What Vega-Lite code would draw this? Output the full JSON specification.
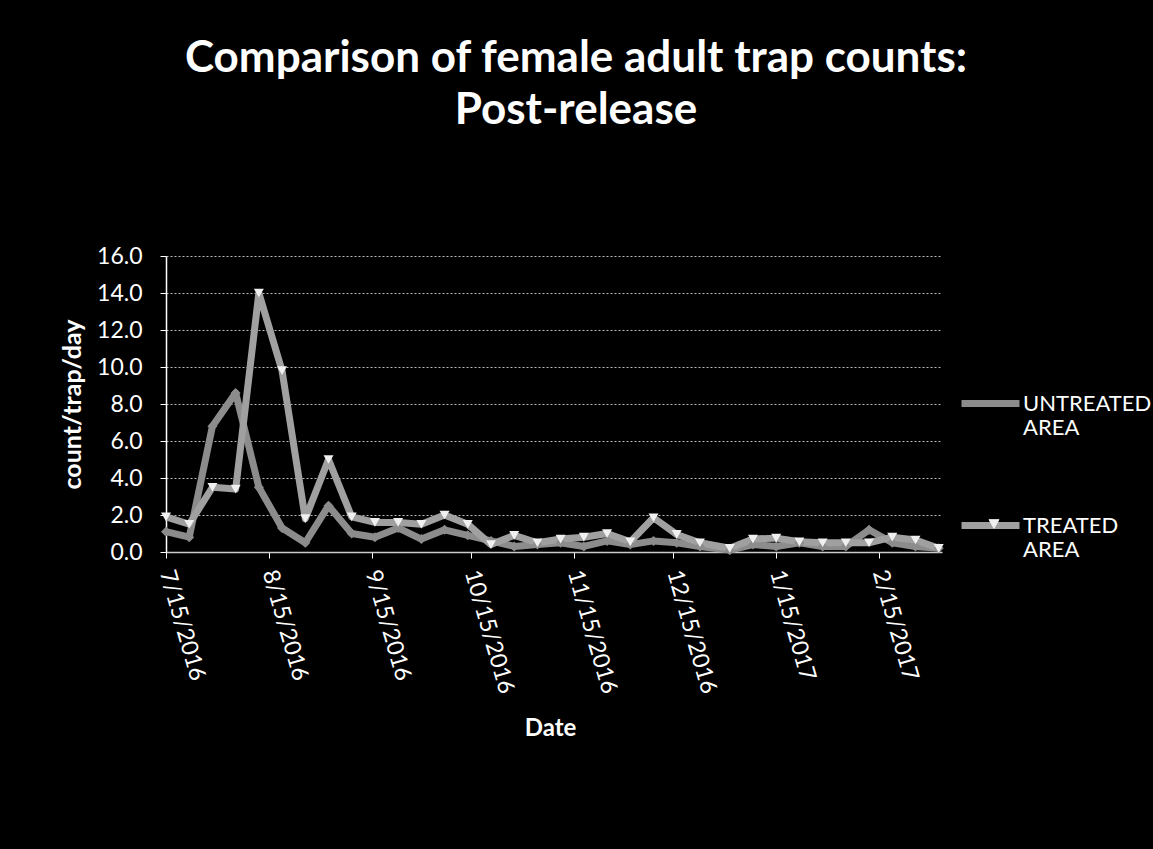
{
  "$schema": "https://vega.github.io/schema/vega-lite/v6.json",
  "width": 776,
  "height": 296,
  "autosize": {"type": "none"},
  "padding": {"left": 166, "top": 256, "right": 211, "bottom": 297},
  "background": "black",
  "config": {"view": {"stroke": null}, "font": "Lato"},
  "title": {
    "text": ["Comparison of female adult trap counts:", "Post-release"],
    "color": "white", "fontSize": 44, "font": "Lato", "fontWeight": "bold",
    "lineHeight": 52, "anchor": "middle", "frame": "group", "offset": 112, "dx": 22
  },
  "data": {"values": [
    {"date": "2016-07-15", "series": "UNTREATED AREA", "value": 1.1},
    {"date": "2016-07-22", "series": "UNTREATED AREA", "value": 0.8},
    {"date": "2016-07-29", "series": "UNTREATED AREA", "value": 6.8},
    {"date": "2016-08-05", "series": "UNTREATED AREA", "value": 8.6},
    {"date": "2016-08-12", "series": "UNTREATED AREA", "value": 3.5},
    {"date": "2016-08-19", "series": "UNTREATED AREA", "value": 1.3},
    {"date": "2016-08-26", "series": "UNTREATED AREA", "value": 0.5},
    {"date": "2016-09-02", "series": "UNTREATED AREA", "value": 2.5},
    {"date": "2016-09-09", "series": "UNTREATED AREA", "value": 1.0},
    {"date": "2016-09-16", "series": "UNTREATED AREA", "value": 0.8},
    {"date": "2016-09-23", "series": "UNTREATED AREA", "value": 1.3},
    {"date": "2016-09-30", "series": "UNTREATED AREA", "value": 0.7},
    {"date": "2016-10-07", "series": "UNTREATED AREA", "value": 1.2},
    {"date": "2016-10-14", "series": "UNTREATED AREA", "value": 0.9},
    {"date": "2016-10-21", "series": "UNTREATED AREA", "value": 0.6},
    {"date": "2016-10-28", "series": "UNTREATED AREA", "value": 0.3},
    {"date": "2016-11-04", "series": "UNTREATED AREA", "value": 0.4},
    {"date": "2016-11-11", "series": "UNTREATED AREA", "value": 0.5},
    {"date": "2016-11-18", "series": "UNTREATED AREA", "value": 0.3},
    {"date": "2016-11-25", "series": "UNTREATED AREA", "value": 0.6},
    {"date": "2016-12-02", "series": "UNTREATED AREA", "value": 0.4},
    {"date": "2016-12-09", "series": "UNTREATED AREA", "value": 0.6},
    {"date": "2016-12-16", "series": "UNTREATED AREA", "value": 0.5},
    {"date": "2016-12-23", "series": "UNTREATED AREA", "value": 0.3},
    {"date": "2017-01-01", "series": "UNTREATED AREA", "value": 0.1},
    {"date": "2017-01-08", "series": "UNTREATED AREA", "value": 0.4},
    {"date": "2017-01-15", "series": "UNTREATED AREA", "value": 0.3},
    {"date": "2017-01-22", "series": "UNTREATED AREA", "value": 0.5},
    {"date": "2017-01-29", "series": "UNTREATED AREA", "value": 0.3},
    {"date": "2017-02-05", "series": "UNTREATED AREA", "value": 0.3},
    {"date": "2017-02-12", "series": "UNTREATED AREA", "value": 1.2},
    {"date": "2017-02-19", "series": "UNTREATED AREA", "value": 0.5},
    {"date": "2017-02-26", "series": "UNTREATED AREA", "value": 0.3},
    {"date": "2017-03-05", "series": "UNTREATED AREA", "value": 0.2},
    {"date": "2016-07-15", "series": "TREATED AREA", "value": 1.9},
    {"date": "2016-07-22", "series": "TREATED AREA", "value": 1.5},
    {"date": "2016-07-29", "series": "TREATED AREA", "value": 3.5},
    {"date": "2016-08-05", "series": "TREATED AREA", "value": 3.4},
    {"date": "2016-08-12", "series": "TREATED AREA", "value": 14.0},
    {"date": "2016-08-19", "series": "TREATED AREA", "value": 9.8},
    {"date": "2016-08-26", "series": "TREATED AREA", "value": 1.8},
    {"date": "2016-09-02", "series": "TREATED AREA", "value": 5.0},
    {"date": "2016-09-09", "series": "TREATED AREA", "value": 1.9},
    {"date": "2016-09-16", "series": "TREATED AREA", "value": 1.6},
    {"date": "2016-09-23", "series": "TREATED AREA", "value": 1.6},
    {"date": "2016-09-30", "series": "TREATED AREA", "value": 1.5},
    {"date": "2016-10-07", "series": "TREATED AREA", "value": 2.0},
    {"date": "2016-10-14", "series": "TREATED AREA", "value": 1.5},
    {"date": "2016-10-21", "series": "TREATED AREA", "value": 0.4},
    {"date": "2016-10-28", "series": "TREATED AREA", "value": 0.9},
    {"date": "2016-11-04", "series": "TREATED AREA", "value": 0.5},
    {"date": "2016-11-11", "series": "TREATED AREA", "value": 0.7},
    {"date": "2016-11-18", "series": "TREATED AREA", "value": 0.8},
    {"date": "2016-11-25", "series": "TREATED AREA", "value": 1.0},
    {"date": "2016-12-02", "series": "TREATED AREA", "value": 0.55},
    {"date": "2016-12-09", "series": "TREATED AREA", "value": 1.85},
    {"date": "2016-12-16", "series": "TREATED AREA", "value": 0.95},
    {"date": "2016-12-23", "series": "TREATED AREA", "value": 0.5},
    {"date": "2017-01-01", "series": "TREATED AREA", "value": 0.2},
    {"date": "2017-01-08", "series": "TREATED AREA", "value": 0.7},
    {"date": "2017-01-15", "series": "TREATED AREA", "value": 0.75},
    {"date": "2017-01-22", "series": "TREATED AREA", "value": 0.55},
    {"date": "2017-01-29", "series": "TREATED AREA", "value": 0.5},
    {"date": "2017-02-05", "series": "TREATED AREA", "value": 0.5},
    {"date": "2017-02-12", "series": "TREATED AREA", "value": 0.5},
    {"date": "2017-02-19", "series": "TREATED AREA", "value": 0.8},
    {"date": "2017-02-26", "series": "TREATED AREA", "value": 0.65},
    {"date": "2017-03-05", "series": "TREATED AREA", "value": 0.2}
  ]},
  "encoding": {
    "x": {
      "field": "date", "type": "temporal",
      "scale": {"type": "utc", "domain": [
        {"year": 2016, "month": 7, "date": 15, "utc": true},
        {"year": 2017, "month": 3, "date": 6, "utc": true}
      ]},
      "axis": {
        "values": [
          {"year": 2016, "month": 7, "date": 15, "utc": true},
          {"year": 2016, "month": 8, "date": 15, "utc": true},
          {"year": 2016, "month": 9, "date": 15, "utc": true},
          {"year": 2016, "month": 10, "date": 15, "utc": true},
          {"year": 2016, "month": 11, "date": 15, "utc": true},
          {"year": 2016, "month": 12, "date": 15, "utc": true},
          {"year": 2017, "month": 1, "date": 15, "utc": true},
          {"year": 2017, "month": 2, "date": 15, "utc": true}
        ],
        "labelExpr": "utcFormat(datum.value, '%-m/%-d/%Y')",
        "labelAngle": 74, "labelAlign": "left", "labelBaseline": "middle",
        "labelFontSize": 23, "labelColor": "white", "labelPadding": 12,
        "labelFlush": false, "labelOverlap": false, "labelBound": false,
        "tickColor": "white", "tickSize": 6, "domainColor": "#cccccc", "domainWidth": 1.5,
        "grid": false,
        "title": "Date", "titleColor": "white", "titleFontSize": 24, "titleFontWeight": "bold",
        "titleX": 384, "titleY": 176, "titleAlign": "center", "titleBaseline": "middle"
      }
    },
    "y": {
      "field": "value", "type": "quantitative",
      "scale": {"domain": [0, 16]},
      "axis": {
        "values": [0, 2, 4, 6, 8, 10, 12, 14, 16],
        "format": ".1f", "labelOverlap": false, "tickCount": 9,
        "labelFontSize": 23, "labelColor": "white", "labelPadding": 18,
        "tickColor": "white", "tickSize": 6, "domainColor": "white", "domainWidth": 1.5,
        "grid": true, "gridColor": "#bbbbbb", "gridDash": [2, 2], "gridWidth": 1,
        "title": "count/trap/day", "titleColor": "white", "titleFontSize": 25, "titleFontWeight": "bold",
        "titleX": -94, "titleY": 148, "titleAngle": -90, "titleAlign": "center", "titleBaseline": "middle"
      }
    }
  },
  "layer": [
    {
      "mark": {"type": "line", "strokeWidth": 7, "strokeJoin": "round"},
      "encoding": {
        "color": {
          "field": "series", "type": "nominal",
          "scale": {"domain": ["UNTREATED AREA", "TREATED AREA"], "range": ["#8c8c8c", "#a0a0a0"]},
          "legend": {
            "orient": "none", "legendX": 792, "legendY": 115, "title": null,
            "symbolType": "stroke", "symbolSize": 3364, "symbolStrokeWidth": 7,
            "labelColor": "white", "labelFontSize": 22, "labelFont": "Lato",
            "labelExpr": "split(datum.label, ' ')", "labelLineHeight": 35,
            "rowPadding": 54, "labelOffset": 0, "padding": 0
          }
        }
      }
    },
    {
      "mark": {"type": "point", "filled": true, "size": 100, "opacity": 1},
      "encoding": {
        "fill": {
          "field": "series", "type": "nominal", "sort": ["UNTREATED AREA", "TREATED AREA"],
          "scale": {"range": ["#8c8c8c", "#f0f0f0"]},
          "legend": null
        },
        "shape": {
          "field": "series", "type": "nominal", "sort": ["UNTREATED AREA", "TREATED AREA"],
          "scale": {"range": ["diamond", "triangle-down"]},
          "legend": {
            "orient": "none", "legendX": 817, "legendY": 257, "title": null,
            "values": ["TREATED AREA"],
            "symbolSize": 100, "symbolStrokeWidth": 1,
            "symbolFillColor": "#f0f0f0", "symbolStrokeColor": "#f0f0f0", "symbolOpacity": 1,
            "labelColor": "white", "labelOpacity": 0, "labelFontSize": 22, "labelFont": "Lato",
            "labelExpr": "''",
            "labelOffset": 0, "padding": 0
          }
        }
      }
    }
  ]
}
